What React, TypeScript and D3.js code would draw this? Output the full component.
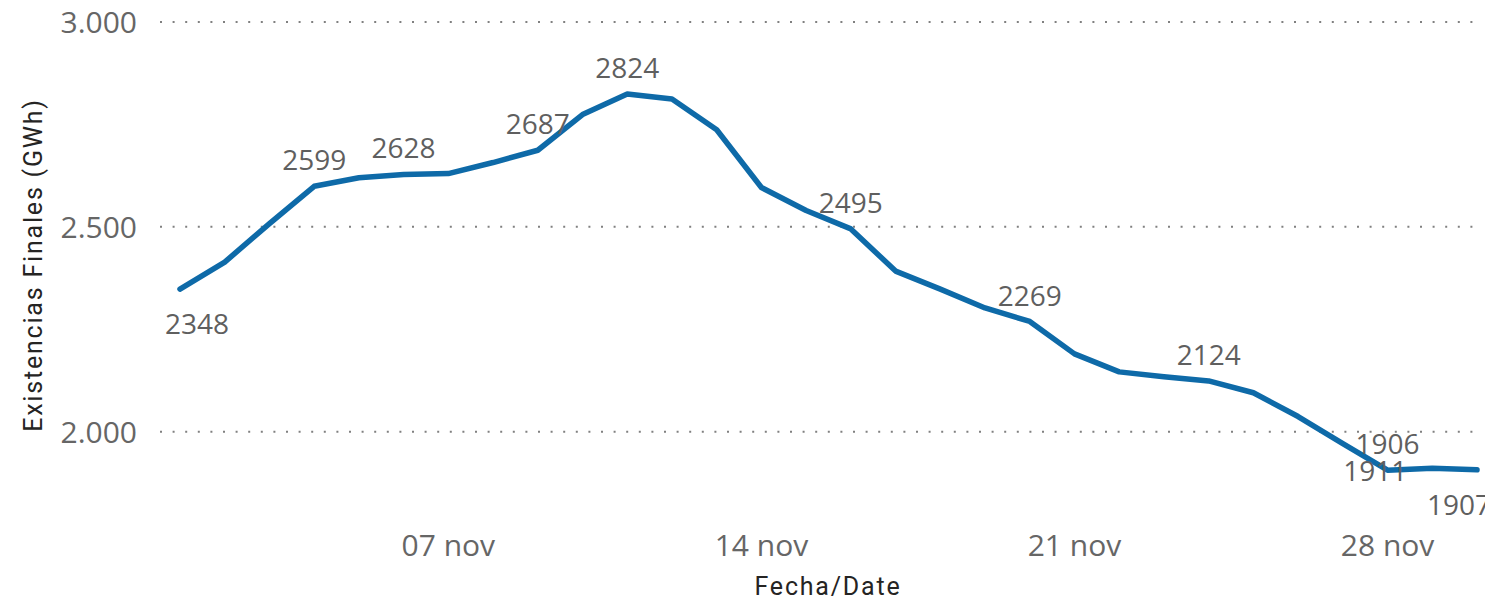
import React from 'react';
import { scaleTime, scaleLinear, line, curveLinear } from 'd3';

// Existencias finales, noviembre (GWh)
const days = [1, 2, 3, 4, 5, 6, 7, 8, 9, 10, 11, 12, 13, 14, 15, 16, 17, 18, 19, 20, 21, 22, 23, 24, 25, 26, 27, 28, 29, 30];
const stock = [2348, 2414, 2508, 2599, 2620, 2628, 2630, 2657, 2687, 2774, 2824, 2812, 2737, 2596, 2540, 2495, 2392, 2348, 2302, 2269, 2190, 2146, 2134, 2124, 2095, 2037, 1971, 1906, 1911, 1907];
const xTickDays = [7, 14, 21, 28];
const xTickLabels = ['07 nov', '14 nov', '21 nov', '28 nov'];
const yTicks = [2000, 2500, 3000];
const yTickLabels = ['2.000', '2.500', '3.000'];
const labelDays = [1, 4, 6, 9, 11, 16, 20, 24, 28, 29, 30];

// where each data label sits relative to its point
const labelPlace: { [d: number]: { dy: number, dx: number } } = {
    1: { dx: 17, dy: 35 }, 28: { dx: 0, dy: -26 }, 29: { dx: -57, dy: 3 }, 30: { dx: -18, dy: 35 }
};

const W = 1485, H = 603;
const tickFont = '"Open Sans", "Noto Sans", sans-serif';
const titleFont = 'Roboto, "Noto Sans", sans-serif';

const date = (d: number) => new Date(2021, 10, d);

const App = () => {
    let x = scaleTime().domain([date(1), date(30)]).range([180, 1477]);
    let y = scaleLinear().domain([2000, 3000]).range([431.7, 22]);

    let linefunc = line<number>().x((d, i) => x(date(days[i]))).y(d => y(d)).curve(curveLinear);

    let grid = yTicks.map((t, i) => (
        <g key={i}>
            <line x1={160} x2={1482} y1={y(t)} y2={y(t)} stroke="#808080" strokeWidth={2} strokeDasharray="2,10.6" />
            <text x={137} y={y(t)} dy="0.36em" textAnchor="end" fill="#666666" fontSize={30} fontFamily={tickFont}>{yTickLabels[i]}</text>
        </g>
    ));

    let xticks = xTickDays.map((d, i) => (
        <text key={i} x={x(date(d))} y={545} dy="0.36em" textAnchor="middle" fill="#666666" fontSize={30} fontFamily={tickFont}>{xTickLabels[i]}</text>
    ));

    let labels = labelDays.map((d, i) => {
        let idx = days.indexOf(d);
        let p = labelPlace[d] || { dx: 0, dy: -26 };
        return (
            <text key={i} x={x(date(d)) + p.dx} y={y(stock[idx]) + p.dy} dy="0.36em" textAnchor="middle" fill="#5f5f5f" fontSize={28} fontFamily={tickFont}>{stock[idx]}</text>
        );
    });

    return (
        <div style={{ position: 'fixed', left: 0, top: 0, width: W, height: H, background: '#ffffff' }}>
            <svg width={W} height={H}>
                {grid}
                <path d={linefunc(stock)} fill="none" stroke="#0e6aa8" strokeWidth={5.5} strokeLinejoin="round" strokeLinecap="round" />
                {labels}
                {xticks}
                <text transform={`translate(33,265) rotate(-90)`} dy="0.36em" textAnchor="middle" fill="#252423" fontSize={25} letterSpacing={1.8} fontFamily={titleFont}>Existencias Finales (GWh)</text>
                <text x={828} y={586} dy="0.36em" textAnchor="middle" fill="#252423" fontSize={25} letterSpacing={1.8} fontFamily={titleFont}>Fecha/Date</text>
            </svg>
        </div>
    );
}

export default App;
